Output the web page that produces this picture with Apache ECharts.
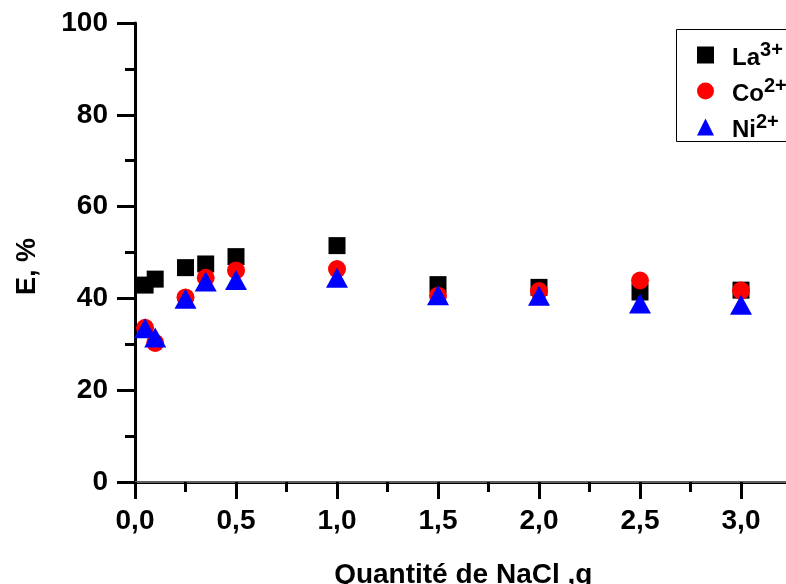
<!DOCTYPE html>
<html>
<head>
<meta charset="utf-8">
<script src="https://cdn.jsdelivr.net/npm/echarts@6/dist/echarts.min.js"></script>
<style>
  html, body { margin: 0; padding: 0; background: #fff; overflow: hidden; }
  /* plot runs past the right edge, like the original figure */
  #chart { width: 800px; height: 584px; }
</style>
</head>
<body>
<div id="chart"></div>
<script>
  // quantité de NaCl (g)
  const nacl = [0.05, 0.1, 0.25, 0.35, 0.5, 1.0, 1.5, 2.0, 2.5, 3.0]
  // E, %
  const la = [42.9, 44.2, 46.7, 47.5, 49.1, 51.5, 43.0, 42.4, 41.4, 41.8]
  const co = [33.6, 30.3, 40.2, 44.5, 46.1, 46.4, 40.6, 41.6, 43.9, 41.7]
  const ni = [33.5, 31.5, 39.9, 43.7, 44.0, 44.5, 40.7, 40.6, 38.9, 38.6]
  const legendNames = { 'La3+': ['La', '3+'], 'Co2+': ['Co', '2+'], 'Ni2+': ['Ni', '2+'] }

  const font = '"Liberation Sans", Arial, sans-serif'
  const pairs = (ys) => nacl.map((x, i) => [x, ys[i]])
  const comma = (v) => v.toFixed(1).replace('.', ',')

  const myChart = echarts.init(document.getElementById('chart'))
  myChart.setOption({
    animation: false,
    grid: { left: 135, top: 23, bottom: 102, width: 656.5, outerBoundsMode: 'none', containLabel: false },
    // cadre de la légende
    graphic: [{
      type: 'rect',
      left: 674,
      top: 27,
      shape: { width: 140, height: 112 },
      style: { fill: 'none', stroke: '#000', lineWidth: 1 },
      z: 10
    }],
    legend: {
      left: 674,
      top: 27,
      orient: 'vertical',
      padding: [13, 40, 0, 23],
      itemWidth: 17,
      itemHeight: 17,
      itemGap: 6,
      formatter: (name) => '{b|' + legendNames[name][0] + '}{s|' + legendNames[name][1] + '}',
      textStyle: {
        rich: {
          b: { fontFamily: font, fontWeight: 'bold', fontSize: 24, color: '#000', verticalAlign: 'bottom', padding: [0, 0, 0, 13] },
          s: { fontFamily: font, fontWeight: 'bold', fontSize: 20, color: '#000', verticalAlign: 'bottom', padding: [0, 0, 10, 0] }
        }
      }
    },
    xAxis: [{
      type: 'value',
      min: 0,
      max: 3.25,
      interval: 0.5,
      name: 'Quantité de NaCl ,g',
      nameLocation: 'middle',
      nameGap: 79,
      nameTextStyle: { fontFamily: font, fontWeight: 'bold', fontSize: 28, color: '#000' },
      splitLine: { show: false },
      axisLine: { onZero: false, lineStyle: { color: '#000', width: 3 } },
      axisTick: { inside: false, length: 17, lineStyle: { width: 3 } },
      minorTick: { show: true, splitNumber: 2, length: 10, lineStyle: { color: '#000', width: 3 } },
      axisLabel: {
        margin: 25,
        showMaxLabel: false,
        formatter: comma,
        fontFamily: font, fontWeight: 'bold', fontSize: 28, color: '#000'
      }
    }, {
      // cadre du haut
      type: 'value',
      position: 'top',
      min: 0,
      max: 3.25,
      axisLine: { show: true, lineStyle: { color: '#808080', width: 1.5 } },
      axisTick: { show: false },
      axisLabel: { show: false },
      splitLine: { show: false }
    }],
    yAxis: {
      type: 'value',
      min: 0,
      max: 100,
      interval: 20,
      name: 'E, %',
      nameLocation: 'middle',
      nameGap: 94,
      nameTextStyle: { fontFamily: font, fontWeight: 'bold', fontSize: 27, color: '#000', padding: [0, 28, 0, 0] },
      splitLine: { show: false },
      axisLine: { show: true, lineStyle: { color: '#000', width: 3 } },
      axisTick: { inside: false, length: 18, lineStyle: { width: 3 } },
      minorTick: { show: true, splitNumber: 2, length: 10, lineStyle: { color: '#000', width: 3 } },
      axisLabel: { margin: 27, fontFamily: font, fontWeight: 'bold', fontSize: 28, color: '#000' }
    },
    series: [{
      name: 'La3+',
      type: 'scatter',
      symbol: 'rect',
      symbolSize: 17,
      itemStyle: { color: '#000', opacity: 1 },
      data: pairs(la)
    }, {
      name: 'Co2+',
      type: 'scatter',
      symbol: 'circle',
      symbolSize: 18,
      itemStyle: { color: '#ff0000', opacity: 1 },
      data: pairs(co)
    }, {
      name: 'Ni2+',
      type: 'scatter',
      symbol: 'triangle',
      symbolSize: [22, 20],
      itemStyle: { color: '#0000ff', opacity: 1 },
      data: pairs(ni)
    }]
  })
</script>
</body>
</html>
